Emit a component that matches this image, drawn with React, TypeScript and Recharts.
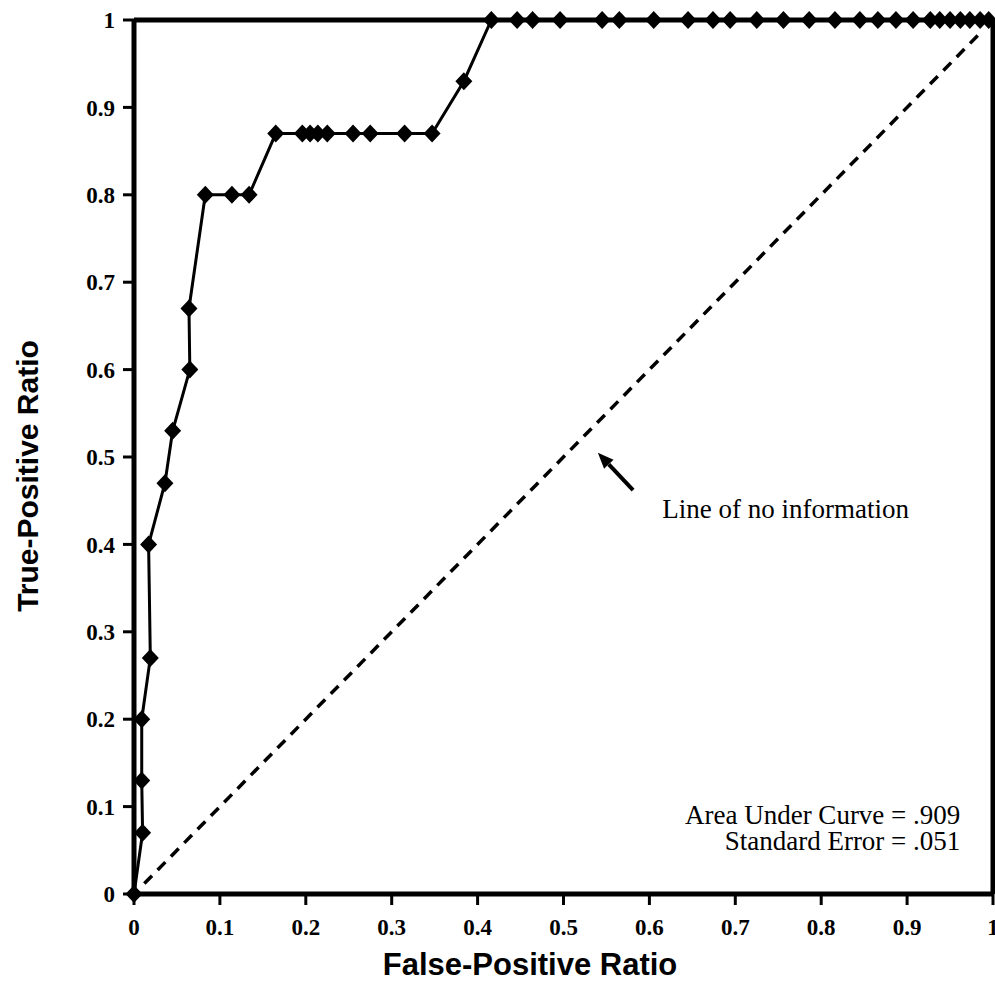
import { LineChart, Line, XAxis, YAxis, ReferenceLine, ReferenceDot, Label } from 'recharts';

// ROC curve points
const falsePositive = [
  0, 0.01, 0.009, 0.009, 0.019, 0.017, 0.036, 0.045, 0.065, 0.064,
  0.083, 0.114, 0.134,
  0.165, 0.196, 0.205, 0.214, 0.225, 0.255, 0.275, 0.315, 0.347,
  0.384,
  0.416, 0.446, 0.464, 0.496, 0.545, 0.565, 0.605, 0.645, 0.674, 0.694,
  0.725, 0.756, 0.786, 0.816, 0.845, 0.866, 0.887, 0.907, 0.927, 0.938,
  0.95, 0.962, 0.973, 0.985, 0.995,
];
const truePositive = [
  0, 0.07, 0.13, 0.2, 0.27, 0.4, 0.47, 0.53, 0.6, 0.67,
  0.8, 0.8, 0.8,
  0.87, 0.87, 0.87, 0.87, 0.87, 0.87, 0.87, 0.87, 0.87,
  0.93,
  1, 1, 1, 1, 1, 1, 1, 1, 1, 1,
  1, 1, 1, 1, 1, 1, 1, 1, 1, 1,
  1, 1, 1, 1, 1,
];

const axisTicks = [0, 0.1, 0.2, 0.3, 0.4, 0.5, 0.6, 0.7, 0.8, 0.9, 1];
const noInfoLine = [
  { x: 0.012, y: 0.012 },
  { x: 0.985, y: 0.985 },
];
const arrowFrom = { x: 0.581, y: 0.462 };
const arrowTo = { x: 0.54, y: 0.505 };
const noInfoText = { x: 0.615, y: 0.43, text: 'Line of no information' };
const statsText = { x: 0.962, y: 0.08, lines: ['Area Under Curve = .909', 'Standard Error = .051'] };

const data = falsePositive.map((fpr, i) => ({ fpr, tpr: truePositive[i] }));

const serif = '"Liberation Serif", "Times New Roman", serif';
const sans = '"Liberation Sans", Arial, Helvetica, sans-serif';

const tickStyle = { fontFamily: serif, fontWeight: 'bold', fontSize: 23, fill: '#000' };

function Diamond(props: any) {
  const { cx, cy } = props;
  if (cx == null || cy == null) return null;
  return <polygon points={`${cx},${cy - 9} ${cx + 8.5},${cy} ${cx},${cy + 9} ${cx - 8.5},${cy}`} fill="#000" />;
}

function Arrow(props: any) {
  const { x1, y1, x2, y2 } = props;
  if (x1 == null) return null;
  const ang = Math.atan2(y2 - y1, x2 - x1);
  const len = 16;
  const w = 6.5;
  const bx = x2 - len * Math.cos(ang);
  const by = y2 - len * Math.sin(ang);
  const px = -Math.sin(ang) * w;
  const py = Math.cos(ang) * w;
  return (
    <g>
      <line x1={x1} y1={y1} x2={bx} y2={by} stroke="#000" strokeWidth={4} />
      <polygon points={`${x2},${y2} ${bx + px},${by + py} ${bx - px},${by - py}`} fill="#000" />
    </g>
  );
}

export default function App() {
  return (
    <div style={{ position: 'absolute', left: 0, top: 0, width: 995, height: 981, background: '#fff' }}>
      <LineChart width={995} height={981} data={data} margin={{ top: 20, right: 2, bottom: 0, left: 0 }}>
        <XAxis
          type="number"
          dataKey="fpr"
          domain={[0, 1]}
          ticks={axisTicks}
          tickFormatter={(v) => String(v)}
          height={87}
          tickSize={11}
          tickMargin={14}
          tick={tickStyle}
          axisLine={{ stroke: '#000', strokeWidth: 5 }}
          tickLine={{ stroke: '#000', strokeWidth: 3 }}
          interval={0}
        >
          <Label
            content={() => (
              <text x={530} y={975} textAnchor="middle" fontFamily={sans} fontWeight="bold" fontSize={31} fill="#000">
                False-Positive Ratio
              </text>
            )}
          />
        </XAxis>
        <YAxis
          type="number"
          dataKey="tpr"
          domain={[0, 1]}
          ticks={axisTicks}
          tickFormatter={(v) => String(v)}
          width={134}
          tickSize={11}
          tickMargin={8}
          tick={tickStyle}
          axisLine={{ stroke: '#000', strokeWidth: 5 }}
          tickLine={{ stroke: '#000', strokeWidth: 3 }}
          interval={0}
        >
          <Label
            content={() => (
              <text
                x={27}
                y={476}
                transform="rotate(-90, 27, 476)"
                textAnchor="middle"
                dominantBaseline="central"
                fontFamily={sans}
                fontWeight="bold"
                fontSize={30}
                fill="#000"
              >
                True-Positive Ratio
              </text>
            )}
          />
        </YAxis>
        <ReferenceLine y={1} stroke="#000" strokeWidth={5} ifOverflow="visible" />
        <ReferenceLine x={1} stroke="#000" strokeWidth={5} ifOverflow="visible" />
        <ReferenceLine segment={noInfoLine} stroke="#000" strokeWidth={3.5} strokeDasharray="11 8" />
        <ReferenceLine segment={[arrowFrom, arrowTo]} shape={(p: any) => <Arrow {...p} />} />
        <ReferenceDot
          x={noInfoText.x}
          y={noInfoText.y}
          shape={(p: any) => (
            <text x={p.cx} y={p.cy} textAnchor="start" fontFamily={serif} fontSize={27} fill="#000">
              {noInfoText.text}
            </text>
          )}
        />
        <ReferenceDot
          x={statsText.x}
          y={statsText.y}
          shape={(p: any) => (
            <text x={p.cx} y={p.cy} textAnchor="end" fontFamily={serif} fontSize={27} fill="#000">
              {statsText.lines.map((t, i) => (
                <tspan key={t} x={p.cx} dy={i === 0 ? 0 : 26}>
                  {t}
                </tspan>
              ))}
            </text>
          )}
        />
        <Line
          type="linear"
          dataKey="tpr"
          stroke="#000"
          strokeWidth={3}
          dot={(p: any) => <Diamond key={p.index} {...p} />}
          activeDot={false}
          isAnimationActive={false}
        />
      </LineChart>
    </div>
  );
}
